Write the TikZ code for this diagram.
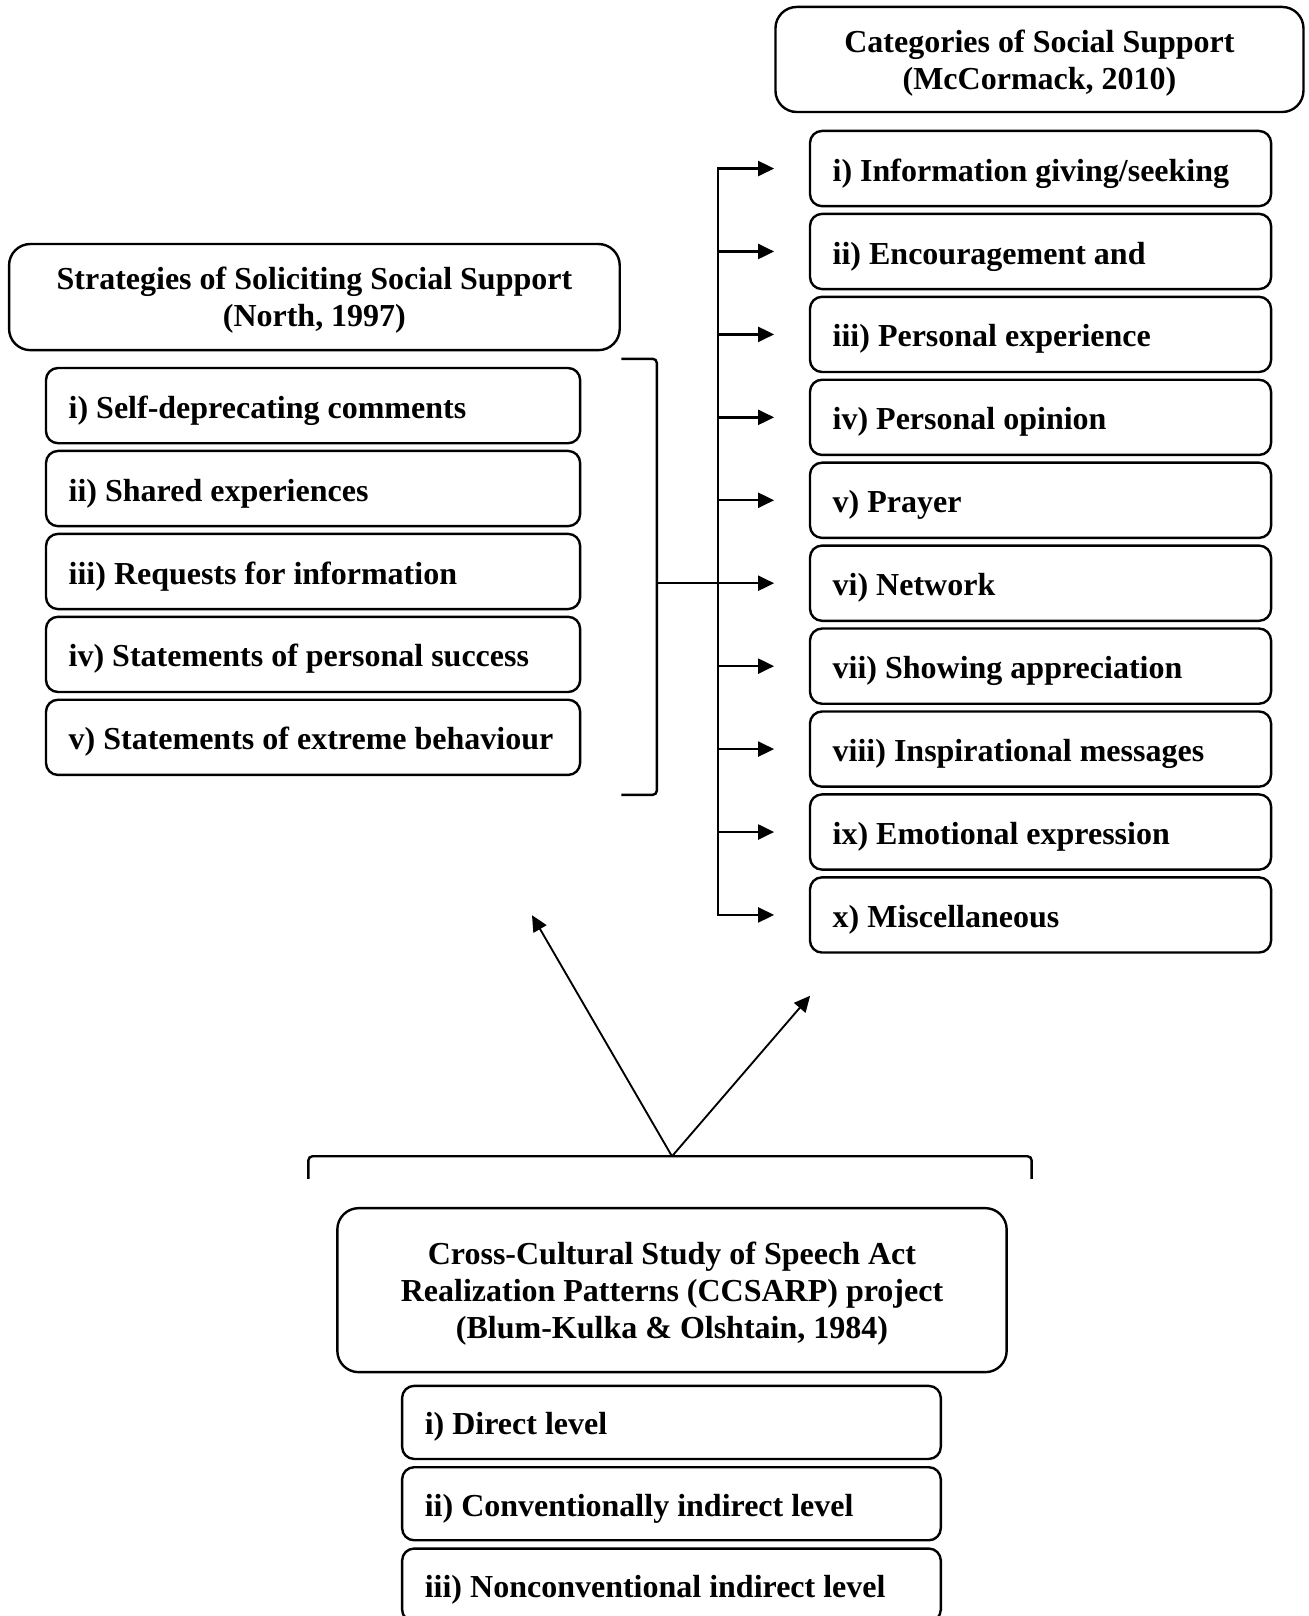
\documentclass[tikz,border=0pt]{standalone}
\usepackage{fontspec}
\setmainfont{Liberation Serif}
\usepackage{tikz}
\usetikzlibrary{arrows.meta, positioning, calc}

\begin{document}
\begin{tikzpicture}[
			font=\fontsize{12pt}{13.9pt}\selectfont\bfseries,
			titlebox/.style={rectangle, rounded corners=8pt, draw, line width=0.9pt, align=center, text depth=-2pt},
			item/.style={rectangle, rounded corners=4.5pt, draw, line width=0.9pt,
				inner xsep=8.5pt, align=flush left, minimum height=28.2pt, text height=9.4pt, text depth=0pt},
			catitem/.style={item, text width=155.9pt},
			stratitem/.style={item, text width=183.3pt},
			levelitem/.style={item, text width=185pt, minimum height=27.4pt},
			line/.style={line width=0.9pt, rounded corners=1.5pt},
			arrow/.style={-{Triangle[length=6pt,width=5.6pt]}, line width=0.9pt}
			]
			\useasboundingbox (0,0) rectangle (490.875pt,-606pt);
			
			% McCormack categories (right)
			\node[titlebox, minimum width=198pt, minimum height=39.4pt] (cat) at (389.8pt,-22.3pt) {Categories of Social Support\\(McCormack, 2010)};
			\node[catitem] (r1) at (390.2pt,-63.2pt) {i) Information giving/seeking};
			\node[catitem, below=2pt of r1] (r2) {ii) Encouragement and};
			\node[catitem, below=2pt of r2] (r3) {iii) Personal experience};
			\node[catitem, below=2pt of r3] (r4) {iv) Personal opinion};
			\node[catitem, below=2pt of r4] (r5) {v) Prayer};
			\node[catitem, below=2pt of r5] (r6) {vi) Network};
			\node[catitem, below=2pt of r6] (r7) {vii) Showing appreciation};
			\node[catitem, below=2pt of r7] (r8) {viii) Inspirational messages};
			\node[catitem, below=2pt of r8] (r9) {ix) Emotional expression};
			\node[catitem, below=2pt of r9] (r10) {x) Miscellaneous};
			
			% North strategies (left)
			\node[titlebox, minimum width=229pt, minimum height=39.8pt] (strat) at (117.9pt,-111.4pt) {Strategies of Soliciting Social Support\\(North, 1997)};
			\node[stratitem] (l1) at (117.4pt,-152.1pt) {i) Self-deprecating comments};
			\node[stratitem, below=2pt of l1] (l2) {ii) Shared experiences};
			\node[stratitem, below=2pt of l2] (l3) {iii) Requests for information};
			\node[stratitem, below=2pt of l3] (l4) {iv) Statements of personal success};
			\node[stratitem, below=2pt of l4] (l5) {v) Statements of extreme behaviour};
			
			% CCSARP (bottom)
			\node[titlebox, minimum width=251pt, minimum height=61.5pt] (ccs) at (252pt,-483.8pt) {Cross-Cultural Study of Speech Act\\Realization Patterns (CCSARP) project\\(Blum-Kulka \& Olshtain, 1984)};
			\node[levelitem] (b1) at (251.8pt,-533.4pt) {i) Direct level};
			\node[levelitem, below=2.2pt of b1] (b2) {ii) Conventionally indirect level};
			\node[levelitem, below=2.2pt of b2] (b3) {iii) Nonconventional indirect level};
			
			\coordinate (trunk) at ($(r1.west)+(-34pt,0)$);
			\coordinate (brk) at ($(l1.north east)+(28.3pt,0)$);
			\coordinate (apex) at ($(ccs.north)+(0,19pt)$);
			\coordinate (tipL) at (199.5pt,-343.2pt);
			\coordinate (tipR) at (303.8pt,-373.4pt);
			
			\draw[line] ($(l1.north east)+(15pt,3pt)$) -| (brk |- l5.south) |- ($(l5.south east)+(15pt,-7pt)$);
			\draw[arrow, shorten >=13pt] (brk |- r6.west) -- (r6.west);
			\draw[arrow, shorten >=13pt] (trunk |- r10.west) |- (r1.west);
			\draw[arrow, shorten >=13pt] (trunk |- r1.west) |- (r10.west);
			\foreach \i in {2,3,4,5,7,8,9}
				\draw[arrow, shorten >=13pt] (trunk |- r\i.west) -- (r\i.west);
			
			\draw[line] ($(ccs.north west)+(-10.4pt,10.5pt)$) |- ($(ccs.north east)+(8.9pt,19pt)$) -- ++(0,-8.5pt);
			\draw[arrow, line width=0.7pt] (apex) -- (tipL);
			\draw[arrow, line width=0.7pt] (apex) -- (tipR);
		\end{tikzpicture}
\end{document}
